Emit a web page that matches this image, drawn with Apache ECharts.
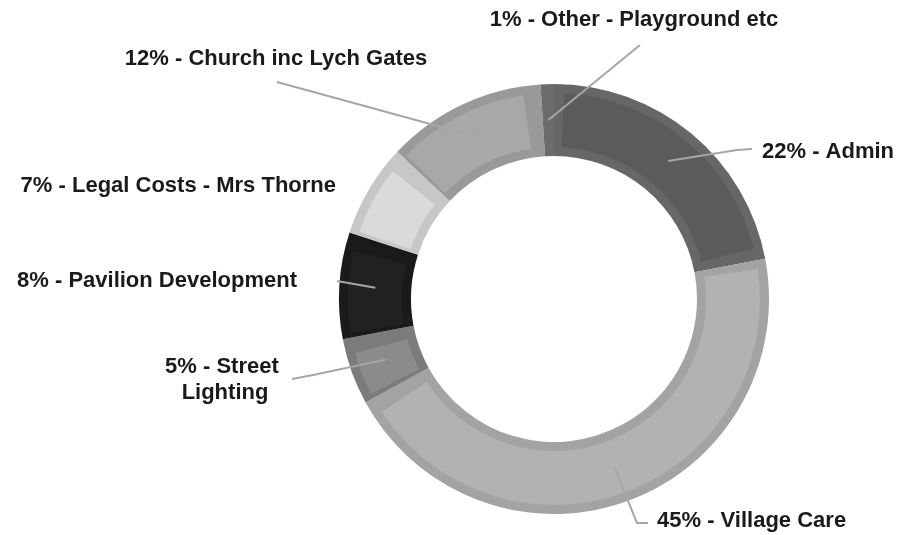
<!DOCTYPE html>
<html>
<head>
<meta charset="utf-8">
<script src="https://cdn.jsdelivr.net/npm/echarts@6/dist/echarts.min.js"></script>
<style>
html,body{margin:0;padding:0;background:#fff;}
#chart{width:902px;height:535px;}
</style>
</head>
<body>
<div id="chart"></div>
<script>
// ---- data ----
const categories = ['Admin', 'Village Care', 'Street Lighting', 'Pavilion Development', 'Legal Costs - Mrs Thorne', 'Church inc Lych Gates', 'Other - Playground etc'];
const percentValues = [22, 45, 5, 8, 7, 12, 1];

// ---- styles ----
const fillColors   = ['#5b5b5b', '#b2b2b2', '#8b8b8b', '#212121', '#dadada', '#a8a8a8', '#787878'];
const borderColors = ['#676767', '#a3a3a3', '#7b7b7b', '#1a1a1a', '#c7c7c7', '#999999', '#6c6c6c'];

const center = [554, 299];
const rInner = 143, rOuter = 215, band = 9;
const rMid = (rInner + rOuter) / 2;

// label anchor layout: [x, y, align]
const labelPos = [
  [762, 152, 'left'],
  [657, 521, 'left'],
  [225, 380, 'center'],
  [297, 281, 'right'],
  [336, 186, 'right'],
  [276, 59, 'center'],
  [634, 20, 'center']
];
// label line bend/end points (after the start point on the ring)
const lineEnds = [
  [[737, 150], [752, 149]],
  [[637, 523], [648, 523]],
  [[313, 375], [292, 379]],
  [[337, 281]],
  null,
  [[277, 82]],
  [[640, 45]]
];

const borderData = categories.map((c, i) => ({name: c, value: percentValues[i], itemStyle: {color: borderColors[i]}}));
const fillData = categories.map((c, i) => ({name: c, value: percentValues[i], itemStyle: {color: fillColors[i]}}));
const labelData = categories.map((c, i) => {
  const d = {name: c, value: percentValues[i]};
  if (i === 2) d.label = {width: 120, overflow: 'break'};
  if (lineEnds[i] === null) d.labelLine = {show: false};
  return d;
});

const chart = echarts.init(document.getElementById('chart'), null, {renderer: 'canvas'});
chart.setOption({
  animation: false,
  backgroundColor: '#ffffff',
  series: [
    {
      type: 'pie',
      z: 1,
      center: center,
      radius: [rInner, rOuter],
      startAngle: 90,
      clockwise: true,
      silent: true,
      label: {show: false},
      labelLine: {show: false},
      data: borderData
    },
    {
      type: 'pie',
      z: 2,
      center: center,
      radius: [rInner + band, rOuter - band],
      startAngle: 90,
      clockwise: true,
      padAngle: (2 * band / rMid) * 180 / Math.PI,
      silent: true,
      label: {show: false},
      labelLine: {show: false},
      data: fillData
    },
    {
      type: 'pie',
      z: 5,
      center: center,
      radius: [rInner, rOuter],
      startAngle: 90,
      clockwise: true,
      avoidLabelOverlap: false,
      silent: true,
      itemStyle: {color: 'rgba(0,0,0,0)'},
      label: {
        show: true,
        position: 'outside',
        formatter: p => p.value + '% - ' + p.name,
        fontFamily: 'Liberation Sans, Arial, sans-serif',
        fontWeight: 'bold',
        fontSize: 22,
        lineHeight: 26,
        color: '#1a1a1a'
      },
      labelLine: {
        show: true,
        lineStyle: {color: '#a6a6a6', width: 2}
      },
      labelLayout: function (params) {
        const i = params.dataIndex;
        const pos = labelPos[i];
        const out = {x: pos[0], y: pos[1], align: pos[2], verticalAlign: 'middle'};
        if (lineEnds[i] && params.labelLinePoints) {
          const p0 = params.labelLinePoints[0];
          const dx = p0[0] - center[0], dy = p0[1] - center[1];
          const len = Math.sqrt(dx * dx + dy * dy);
          const start = [center[0] + dx / len * rMid, center[1] + dy / len * rMid];
          out.labelLinePoints = [start].concat(lineEnds[i]);
        }
        return out;
      },
      data: labelData
    }
  ]
});
</script>
</body>
</html>
